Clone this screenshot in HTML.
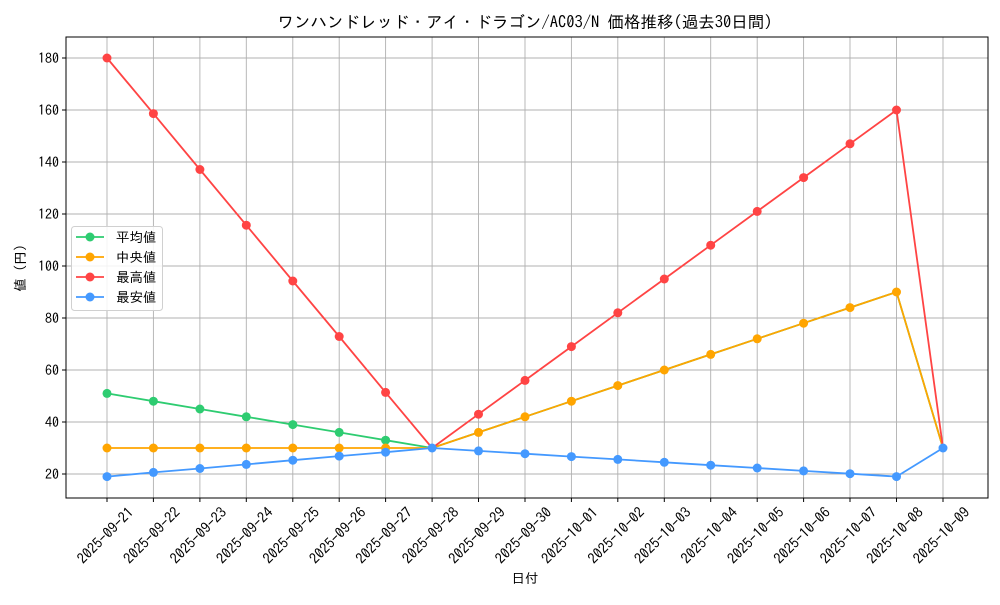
<!DOCTYPE html>
<html><head><meta charset="utf-8"><style>
body{margin:0;background:#fff}
svg text{font-family:"IPAGothic","Noto Sans CJK JP",monospace;fill:#000}
</style></head><body>
<svg width="1000" height="600" xmlns="http://www.w3.org/2000/svg">
<rect width="1000" height="600" fill="#fff"/>
<text x="525" y="28" font-size="16.5" text-anchor="middle">ワンハンドレッド・アイ・ドラゴン/AC03/N 価格推移(過去30日間)</text>
<g stroke="#b0b0b0" stroke-width="0.9">
<line x1="107" y1="37" x2="107" y2="498"/><line x1="153.4" y1="37" x2="153.4" y2="498"/><line x1="199.9" y1="37" x2="199.9" y2="498"/><line x1="246.3" y1="37" x2="246.3" y2="498"/><line x1="292.8" y1="37" x2="292.8" y2="498"/><line x1="339.2" y1="37" x2="339.2" y2="498"/><line x1="385.6" y1="37" x2="385.6" y2="498"/><line x1="432.1" y1="37" x2="432.1" y2="498"/><line x1="478.5" y1="37" x2="478.5" y2="498"/><line x1="525" y1="37" x2="525" y2="498"/><line x1="571.4" y1="37" x2="571.4" y2="498"/><line x1="617.8" y1="37" x2="617.8" y2="498"/><line x1="664.3" y1="37" x2="664.3" y2="498"/><line x1="710.7" y1="37" x2="710.7" y2="498"/><line x1="757.2" y1="37" x2="757.2" y2="498"/><line x1="803.6" y1="37" x2="803.6" y2="498"/><line x1="850" y1="37" x2="850" y2="498"/><line x1="896.5" y1="37" x2="896.5" y2="498"/><line x1="943" y1="37" x2="943" y2="498"/>
<line x1="66" y1="474" x2="988" y2="474"/><line x1="66" y1="422" x2="988" y2="422"/><line x1="66" y1="370" x2="988" y2="370"/><line x1="66" y1="318" x2="988" y2="318"/><line x1="66" y1="266" x2="988" y2="266"/><line x1="66" y1="214" x2="988" y2="214"/><line x1="66" y1="162" x2="988" y2="162"/><line x1="66" y1="110" x2="988" y2="110"/><line x1="66" y1="58" x2="988" y2="58"/>
</g>
<rect x="66" y="37" width="922" height="461" fill="none" stroke="#000" stroke-width="1"/>
<g stroke="#000" stroke-width="1">
<line x1="62" y1="474" x2="66" y2="474"/><line x1="62" y1="422" x2="66" y2="422"/><line x1="62" y1="370" x2="66" y2="370"/><line x1="62" y1="318" x2="66" y2="318"/><line x1="62" y1="266" x2="66" y2="266"/><line x1="62" y1="214" x2="66" y2="214"/><line x1="62" y1="162" x2="66" y2="162"/><line x1="62" y1="110" x2="66" y2="110"/><line x1="62" y1="58" x2="66" y2="58"/>
</g>
<g font-size="14" text-anchor="end">
<text x="59" y="479">20</text><text x="59" y="427">40</text><text x="59" y="375">60</text><text x="59" y="323">80</text><text x="59" y="271">100</text><text x="59" y="219">120</text><text x="59" y="167">140</text><text x="59" y="115">160</text><text x="59" y="63">180</text>
</g>
<g stroke="#000"><line x1="107" y1="498" x2="107" y2="502"/><line x1="153.4" y1="498" x2="153.4" y2="502"/><line x1="199.9" y1="498" x2="199.9" y2="502"/><line x1="246.3" y1="498" x2="246.3" y2="502"/><line x1="292.8" y1="498" x2="292.8" y2="502"/><line x1="339.2" y1="498" x2="339.2" y2="502"/><line x1="385.6" y1="498" x2="385.6" y2="502"/><line x1="432.1" y1="498" x2="432.1" y2="502"/><line x1="478.5" y1="498" x2="478.5" y2="502"/><line x1="525" y1="498" x2="525" y2="502"/><line x1="571.4" y1="498" x2="571.4" y2="502"/><line x1="617.8" y1="498" x2="617.8" y2="502"/><line x1="664.3" y1="498" x2="664.3" y2="502"/><line x1="710.7" y1="498" x2="710.7" y2="502"/><line x1="757.2" y1="498" x2="757.2" y2="502"/><line x1="803.6" y1="498" x2="803.6" y2="502"/><line x1="850" y1="498" x2="850" y2="502"/><line x1="896.5" y1="498" x2="896.5" y2="502"/><line x1="943" y1="498" x2="943" y2="502"/></g>
<g font-size="14.5" text-anchor="middle">
<text transform="translate(109,539) rotate(-45)">2025-09-21</text>
<text transform="translate(155.4,539) rotate(-45)">2025-09-22</text>
<text transform="translate(201.9,539) rotate(-45)">2025-09-23</text>
<text transform="translate(248.3,539) rotate(-45)">2025-09-24</text>
<text transform="translate(294.8,539) rotate(-45)">2025-09-25</text>
<text transform="translate(341.2,539) rotate(-45)">2025-09-26</text>
<text transform="translate(387.6,539) rotate(-45)">2025-09-27</text>
<text transform="translate(434.1,539) rotate(-45)">2025-09-28</text>
<text transform="translate(480.5,539) rotate(-45)">2025-09-29</text>
<text transform="translate(527,539) rotate(-45)">2025-09-30</text>
<text transform="translate(573.4,539) rotate(-45)">2025-10-01</text>
<text transform="translate(619.8,539) rotate(-45)">2025-10-02</text>
<text transform="translate(666.3,539) rotate(-45)">2025-10-03</text>
<text transform="translate(712.7,539) rotate(-45)">2025-10-04</text>
<text transform="translate(759.2,539) rotate(-45)">2025-10-05</text>
<text transform="translate(805.6,539) rotate(-45)">2025-10-06</text>
<text transform="translate(852,539) rotate(-45)">2025-10-07</text>
<text transform="translate(898.5,539) rotate(-45)">2025-10-08</text>
<text transform="translate(945,539) rotate(-45)">2025-10-09</text>
</g>
<text x="525" y="583" font-size="13.5" text-anchor="middle">日付</text>
<text transform="translate(25,268) rotate(-90)" font-size="13.5" text-anchor="middle">値 (円)</text>

<defs>
<circle id="g" r="4.5" fill="#2ecc71"/><circle id="o" r="4.5" fill="#ffa500"/><circle id="r" r="4.5" fill="#ff4444"/><circle id="b" r="4.5" fill="#4499ff"/>
</defs>
<polyline fill="none" stroke="#2ecc71" stroke-width="1.8" points="107,393.4 153.4,401.2 199.9,409 246.3,416.8 292.8,424.6 339.2,432.4 385.6,440.2 432.1,448 478.5,432.4 525,416.8 571.4,401.2 617.8,385.6 664.3,370 710.7,354.4 757.2,338.8 803.6,323.2 850,307.6 896.5,292 943,448"/>
<g><use href="#g" x="107" y="393.4"/><use href="#g" x="153.4" y="401.2"/><use href="#g" x="199.9" y="409"/><use href="#g" x="246.3" y="416.8"/><use href="#g" x="292.8" y="424.6"/><use href="#g" x="339.2" y="432.4"/><use href="#g" x="385.6" y="440.2"/></g>
<polyline fill="none" stroke="#ffa500" stroke-width="1.8" points="107,448 153.4,448 199.9,448 246.3,448 292.8,448 339.2,448 385.6,448 432.1,448 478.5,432.4 525,416.8 571.4,401.2 617.8,385.6 664.3,370 710.7,354.4 757.2,338.8 803.6,323.2 850,307.6 896.5,292 943,448"/>
<g><use href="#o" x="107" y="448"/><use href="#o" x="153.4" y="448"/><use href="#o" x="199.9" y="448"/><use href="#o" x="246.3" y="448"/><use href="#o" x="292.8" y="448"/><use href="#o" x="339.2" y="448"/><use href="#o" x="385.6" y="448"/><use href="#o" x="478.5" y="432.4"/><use href="#o" x="525" y="416.8"/><use href="#o" x="571.4" y="401.2"/><use href="#o" x="617.8" y="385.6"/><use href="#o" x="664.3" y="370"/><use href="#o" x="710.7" y="354.4"/><use href="#o" x="757.2" y="338.8"/><use href="#o" x="803.6" y="323.2"/><use href="#o" x="850" y="307.6"/><use href="#o" x="896.5" y="292"/></g>
<polyline fill="none" stroke="#ff4444" stroke-width="1.8" points="107,58 153.4,113.6 199.9,169.5 246.3,225.2 292.8,281 339.2,336.5 385.6,392.4 432.1,448 478.5,414.2 525,380.4 571.4,346.6 617.8,312.8 664.3,279 710.7,245.2 757.2,211.4 803.6,177.6 850,143.8 896.5,110 943,448"/>
<g><use href="#r" x="107" y="58"/><use href="#r" x="153.4" y="113.6"/><use href="#r" x="199.9" y="169.5"/><use href="#r" x="246.3" y="225.2"/><use href="#r" x="292.8" y="281"/><use href="#r" x="339.2" y="336.5"/><use href="#r" x="385.6" y="392.4"/><use href="#r" x="478.5" y="414.2"/><use href="#r" x="525" y="380.4"/><use href="#r" x="571.4" y="346.6"/><use href="#r" x="617.8" y="312.8"/><use href="#r" x="664.3" y="279"/><use href="#r" x="710.7" y="245.2"/><use href="#r" x="757.2" y="211.4"/><use href="#r" x="803.6" y="177.6"/><use href="#r" x="850" y="143.8"/><use href="#r" x="896.5" y="110"/></g>
<polyline fill="none" stroke="#4499ff" stroke-width="1.8" points="107,476.6 153.4,472.4 199.9,468.5 246.3,464.4 292.8,460.2 339.2,456.1 385.6,452.2 432.1,448 478.5,450.9 525,453.7 571.4,456.6 617.8,459.4 664.3,462.3 710.7,465.2 757.2,468 803.6,470.9 850,473.7 896.5,476.6 943,448"/>
<g><use href="#b" x="107" y="476.6"/><use href="#b" x="153.4" y="472.4"/><use href="#b" x="199.9" y="468.5"/><use href="#b" x="246.3" y="464.4"/><use href="#b" x="292.8" y="460.2"/><use href="#b" x="339.2" y="456.1"/><use href="#b" x="385.6" y="452.2"/><use href="#b" x="432.1" y="448"/><use href="#b" x="478.5" y="450.9"/><use href="#b" x="525" y="453.7"/><use href="#b" x="571.4" y="456.6"/><use href="#b" x="617.8" y="459.4"/><use href="#b" x="664.3" y="462.3"/><use href="#b" x="710.7" y="465.2"/><use href="#b" x="757.2" y="468"/><use href="#b" x="803.6" y="470.9"/><use href="#b" x="850" y="473.7"/><use href="#b" x="896.5" y="476.6"/><use href="#b" x="943" y="448"/></g>

<rect x="71.5" y="226.5" width="91" height="84" rx="3" fill="#fff" fill-opacity="0.85" stroke="#d0d0d0"/>
<g stroke-width="1.8">
<line x1="76" y1="237" x2="104" y2="237" stroke="#2ecc71"/><line x1="76" y1="257" x2="104" y2="257" stroke="#ffa500"/><line x1="76" y1="277" x2="104" y2="277" stroke="#ff4444"/><line x1="76" y1="297" x2="104" y2="297" stroke="#4499ff"/>
</g>
<use href="#g" x="90" y="237"/><use href="#o" x="90" y="257"/><use href="#r" x="90" y="277"/><use href="#b" x="90" y="297"/>
<g font-size="13.5"><text x="116" y="242">平均値</text><text x="116" y="262">中央値</text><text x="116" y="282">最高値</text><text x="116" y="302">最安値</text></g>
</svg>
</body></html>
